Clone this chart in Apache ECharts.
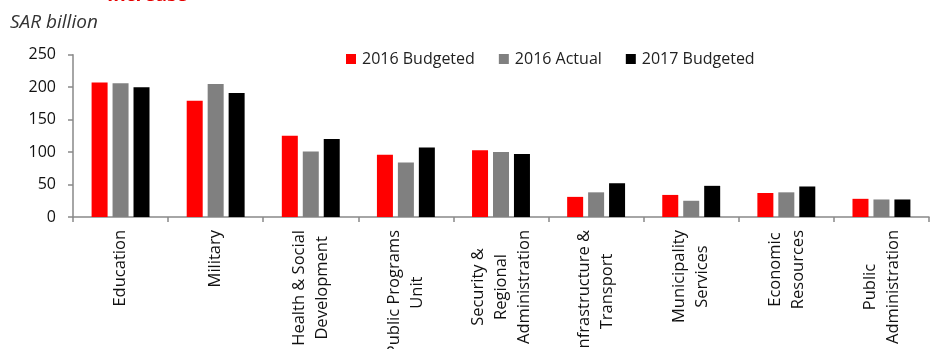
<!DOCTYPE html>
<html>
<head>
<meta charset="utf-8">
<script src="https://cdn.jsdelivr.net/npm/echarts@6/dist/echarts.min.js"></script>
<style>
  html, body { margin: 0; padding: 0; background: #fff; }
  #chart { width: 930px; height: 349px; }
</style>
</head>
<body>
<div id="chart"></div>
<script>
// Spending by sector, SAR billion
const categories = [
  'Education',
  'Military',
  'Health & Social\nDevelopment',
  'Public Programs\nUnit',
  'Security &\nRegional\nAdministration',
  'Infrastructure &\nTransport',
  'Municipality\nServices',
  'Economic\nResources',
  'Public\nAdministration'
];
const budgeted2016 = [207, 179, 125, 96, 103, 31, 34, 37, 28];
const actual2016   = [206, 205, 101, 84, 100, 38, 25, 38, 27];
const budgeted2017 = [200, 191, 120, 107, 97, 52, 48, 47, 27];
const yTicks = { min: 0, max: 250, interval: 50 };

const FONT = '"Open Sans", "Noto Sans", sans-serif';
const AXIS_GREY = '#898989';

const chart = echarts.init(document.getElementById('chart'), null, { renderer: 'canvas' });

const barBase = { type: 'bar', barWidth: 16, barGap: '31%', animation: false };

chart.setOption({
  backgroundColor: '#ffffff',
  textStyle: { fontFamily: FONT },
  graphic: [
    {
      type: 'text', left: 107, top: -14,
      style: { text: 'Increase', fill: '#e60000', font: 'bold 19px ' + FONT }
    },
    {
      type: 'text', left: 10, top: 13,
      style: { text: 'SAR billion', fill: '#333333', font: 'italic 19px ' + FONT }
    }
  ],
  legend: {
    left: 341, top: 46,
    itemWidth: 10, itemHeight: 10, itemGap: 24,
    icon: 'rect',
    textStyle: { fontSize: 16, color: '#222', fontFamily: FONT, padding: [0, 0, 0, 1] },
    data: ['2016 Budgeted', '2016 Actual', '2017 Budgeted']
  },
  grid: { left: 73, right: 1, top: 54.7, bottom: 132, containLabel: false, outerBoundsMode: 'none' },
  xAxis: {
    type: 'category',
    data: categories,
    axisLine: { lineStyle: { color: AXIS_GREY, width: 1.5 } },
    axisTick: { show: true, length: 5, alignWithLabel: false, lineStyle: { color: AXIS_GREY, width: 1.5 } },
    axisLabel: {
      interval: 0,
      rotate: 90,
      margin: 13,
      color: '#111',
      fontSize: 16.5,
      fontFamily: FONT,
      formatter: v => v.split('\n').map(s => '{c|' + s + '}').join('\n'),
      rich: { c: { align: 'center', fontSize: 16.5, lineHeight: 23, fontFamily: FONT, color: '#111' } }
    }
  },
  yAxis: {
    type: 'value',
    min: yTicks.min, max: yTicks.max, interval: yTicks.interval,
    splitLine: { show: false },
    axisLine: { show: true, lineStyle: { color: AXIS_GREY, width: 1.5 } },
    axisTick: { show: true, length: 5, lineStyle: { color: AXIS_GREY, width: 1.5 } },
    axisLabel: { margin: 17, fontSize: 16, color: '#111', fontFamily: FONT }
  },
  series: [
    Object.assign({ name: '2016 Budgeted', data: budgeted2016, itemStyle: { color: '#ff0000' } }, barBase),
    Object.assign({ name: '2016 Actual', data: actual2016, itemStyle: { color: '#808080' } }, barBase),
    Object.assign({ name: '2017 Budgeted', data: budgeted2017, itemStyle: { color: '#000000' } }, barBase)
  ]
});
</script>
</body>
</html>
